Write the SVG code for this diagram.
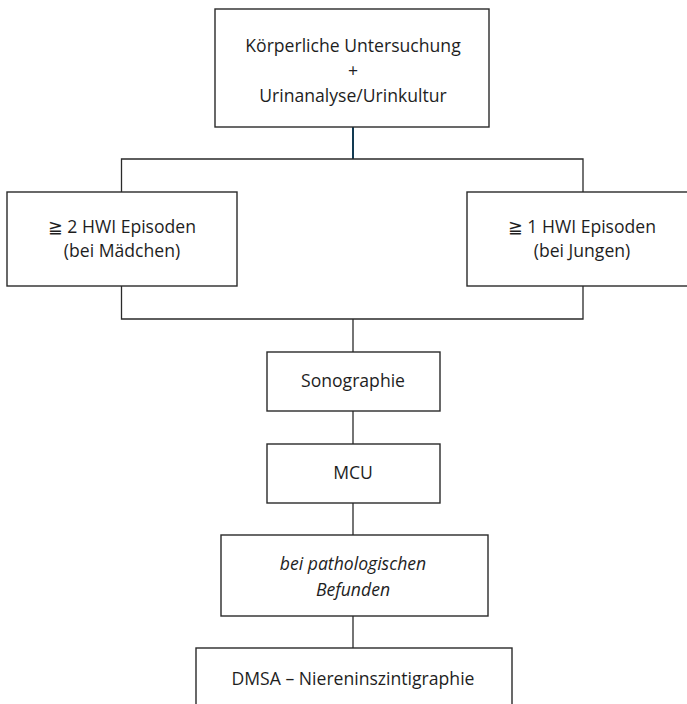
<svg xmlns="http://www.w3.org/2000/svg" width="687" height="704" viewBox="0 0 687 704">
<style>
.box{fill:#fff;stroke:#2a2a2a;stroke-width:1.4}
.ln{fill:none;stroke:#2a2a2a;stroke-width:1.3}
.t{font-family:"Open Sans","Noto Sans","DejaVu Sans",sans-serif;font-size:17.6px;fill:#1e1e1e;text-anchor:middle}
.i{font-style:italic}
</style>
<rect width="687" height="704" fill="#fff"/>
<g id="connectors">
<line x1="353" y1="127" x2="353" y2="159" stroke="#123a52" stroke-width="2"/>
<polyline class="ln" points="121.5,192 121.5,159 583,159 583,192"/>
<polyline class="ln" points="121.5,286 121.5,319 583,319 583,286"/>
<line class="ln" x1="353" y1="319" x2="353" y2="352"/>
<line class="ln" x1="353" y1="411" x2="353" y2="444"/>
<line class="ln" x1="353" y1="503" x2="353" y2="535"/>
<line class="ln" x1="353" y1="616" x2="353" y2="648"/>
</g>
<g id="n1">
<rect class="box" x="215" y="9" width="274" height="118"/>
<text class="t" x="353" y="52">Körperliche Untersuchung</text>
<text class="t" x="353" y="77">+</text>
<text class="t" x="353" y="102">Urinanalyse/Urinkultur</text>
</g>
<g id="n2">
<rect class="box" x="7" y="192" width="230" height="94"/>
<text class="t" x="122" y="233">≧ 2 HWI Episoden</text>
<text class="t" x="122" y="257">(bei Mädchen)</text>
</g>
<g id="n3">
<rect class="box" x="467" y="192" width="230" height="94"/>
<text class="t" x="582" y="233">≧ 1 HWI Episoden</text>
<text class="t" x="582" y="257">(bei Jungen)</text>
</g>
<g id="n4">
<rect class="box" x="267" y="352" width="173" height="59"/>
<text class="t" x="353" y="387">Sonographie</text>
</g>
<g id="n5">
<rect class="box" x="267" y="444" width="173" height="59"/>
<text class="t" x="353" y="479">MCU</text>
</g>
<g id="n6">
<rect class="box" x="221" y="535" width="267" height="81"/>
<text class="t i" x="353" y="570">bei pathologischen</text>
<text class="t i" x="353" y="596">Befunden</text>
</g>
<g id="n7">
<rect class="box" x="196" y="648" width="316" height="70"/>
<text class="t" x="353" y="685">DMSA – Niereninszintigraphie</text>
</g>
</svg>
